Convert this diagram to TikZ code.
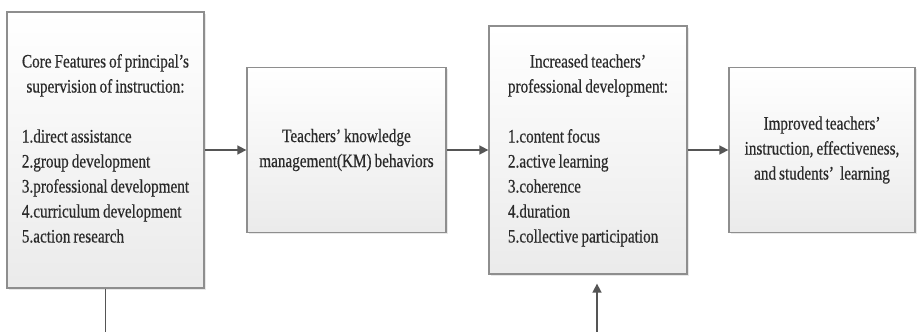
\documentclass[tikz,border=0pt]{standalone}
\usepackage{fontspec}
\setmainfont{Liberation Serif}[FakeStretch=0.8, FakeBold=0.5, WordSpace=0.8]
\usetikzlibrary{shadows,arrows.meta}
\definecolor{bordergray}{HTML}{8E8E8E}
\definecolor{linegray}{HTML}{555555}
\definecolor{txt}{HTML}{2A2A2A}
\tikzset{
  box/.style={draw=bordergray, line width=1.3pt, top color=white, bottom color=black!8,
    drop shadow={opacity=0.18, shadow xshift=1.5pt, shadow yshift=-1.5pt},
    text=txt, font=\fontsize{19}{25}\selectfont, inner sep=0pt},
  conn/.style={draw=linegray, line width=1.6pt},
  arr/.style={conn, -{Triangle[length=9pt,width=9pt]}}
}
\begin{document}
\begin{tikzpicture}[x=1pt,y=-1pt]
\useasboundingbox[fill=white] (0,0) rectangle (919,332);
\node[box, minimum width=197pt, minimum height=276pt] (b1) at (105.5,150)
 {\begin{tabular}{@{}l@{}}
  \multicolumn{1}{@{}c@{}}{Core Features of principal’s}\\
  \multicolumn{1}{@{}c@{}}{supervision of instruction:}\\[25pt]
  1.direct assistance\\
  2.group development\\
  3.professional development\\
  4.curriculum development\\
  5.action research
  \end{tabular}};
\node[box, minimum width=199pt, minimum height=165pt, align=center] (b2) at (346.5,150)
 {Teachers’ knowledge\\ management(KM) behaviors};
\node[box, minimum width=198pt, minimum height=248pt] (b3) at (588,150)
 {\begin{tabular}{@{}l@{}}
  \multicolumn{1}{@{}c@{}}{Increased teachers’}\\
  \multicolumn{1}{@{}c@{}}{professional development:}\\[25pt]
  1.content focus\\
  2.active learning\\
  3.coherence\\
  4.duration\\
  5.collective participation
  \end{tabular}};
\node[box, minimum width=186pt, minimum height=165pt, align=center] (b4) at (822,150)
 {Improved teachers’\\ instruction, effectiveness,\\ and students’\ \ learning};
\draw[arr] (b1.east |- 0,150) -- (b2.west |- 0,150);
\draw[arr] (b2.east |- 0,150) -- (b3.west |- 0,150);
\draw[arr] (b3.east |- 0,150) -- (b4.west |- 0,150);
\coordinate (c1) at (105.5,332);
\coordinate (c2) at (597,332);
\draw[conn] (b1.south) -- (c1);
\draw[arr] (c2) -- ([yshift=-9pt]c2 |- b3.south);
\end{tikzpicture}
\end{document}
